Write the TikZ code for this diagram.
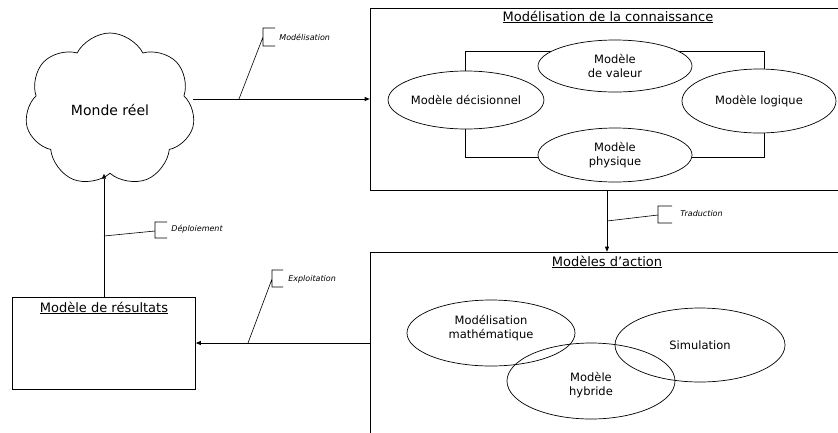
\documentclass[tikz,border=0pt]{standalone}
\usepackage{fontspec}
\setmainfont{DejaVu Sans}
\usetikzlibrary{shapes.geometric,shapes.symbols,arrows.meta}
\begin{document}
\begin{tikzpicture}[x=1pt,y=-1pt, line width=0.7pt,
  arr/.style={-{Triangle[length=5pt,width=4pt]}},
  ell/.style={draw, ellipse, inner sep=0pt, align=center, font=\fontsize{11.5}{13.5}\selectfont},
  box/.style={draw, rectangle, inner sep=0pt},
  ttl/.style={font=\fontsize{13}{15}\selectfont, inner sep=0pt},
  lab/.style={font=\itshape\fontsize{8}{9}\selectfont, anchor=west, inner sep=0pt},
  callout/.style={line width=0.6pt}]
\useasboundingbox (0,0) rectangle (838,432);
\clip (0,0) rectangle (838,432);

% boxes
\node[box, minimum width=474, minimum height=182] (know) at (607,99) {};
\node[ttl] (knowt) at (608,17) {\underline{Modélisation de la connaissance}};
\node[box, minimum width=299, minimum height=106] (ring) at (614.5,104) {};
\node[ell, fill=white, minimum width=154, minimum height=52] (val) at (615,66) {Modèle\\de valeur};
\node[ell, fill=white, minimum width=150, minimum height=58] (dec) at (466,100) {Modèle décisionnel};
\node[ell, fill=white, minimum width=154, minimum height=64] (log) at (759,101) {Modèle logique};
\node[ell, fill=white, minimum width=154, minimum height=54] (phy) at (615,155) {Modèle\\physique};

\node[box, minimum width=474, minimum height=188] (action) at (607,346) {};
\node[ttl] (actiont) at (607,262) {\underline{Modèles d'action}};
\node[ell, minimum width=168, minimum height=66] (math) at (491,333) {};
\node[ell, minimum width=168, minimum height=76] (hyb) at (591,381) {};
\node[ell, minimum width=170, minimum height=74] (sim) at (700,345) {Simulation};
\node[font=\fontsize{11.5}{13.5}\selectfont, align=center] (mathl) at (491,328) {Modélisation\\mathématique};
\node[font=\fontsize{11.5}{13.5}\selectfont, align=center] (hybl) at (591,385) {Modèle\\hybride};

\node[box, minimum width=183, minimum height=92] (res) at (104,343) {};
\node[ttl] (rest) at (104,308) {\underline{Modèle de résultats}};

\node[draw, cloud, cloud puffs=7, cloud puff arc=125, aspect=1.1, minimum width=170, minimum height=154, inner sep=0pt,
  font=\fontsize{14}{16}\selectfont] (cloud) at (110,110) {Monde réel};

% arrows
\draw[arr] (cloud.east |- know.west) -- (know.west);
\draw[arr] (know.south -| action.north) -- (action.north);
\draw[arr] (action.west |- res.east) -- (res.east);
\draw[arr] (res.north) -- (res.north |- cloud.south);

% callouts
\draw[callout] (239,99) -- (263,37) (275,28) -- (263,28) -- (263,46) -- (275,46);
\node[lab] (l1) at (279,37) {Modélisation};
\draw[callout] (607,221) -- (658,215) (672,206) -- (658,206) -- (658,223) -- (672,223);
\node[lab] (l2) at (680,214) {Traduction};
\draw[callout] (248,343) -- (272,279) (283,270) -- (272,270) -- (272,287) -- (283,287);
\node[lab] (l3) at (288,279) {Exploitation};
\draw[callout] (104,236) -- (155,231) (167,222) -- (155,222) -- (155,238) -- (167,238);
\node[lab] (l4) at (171,229) {Déploiement};
\end{tikzpicture}
\end{document}
